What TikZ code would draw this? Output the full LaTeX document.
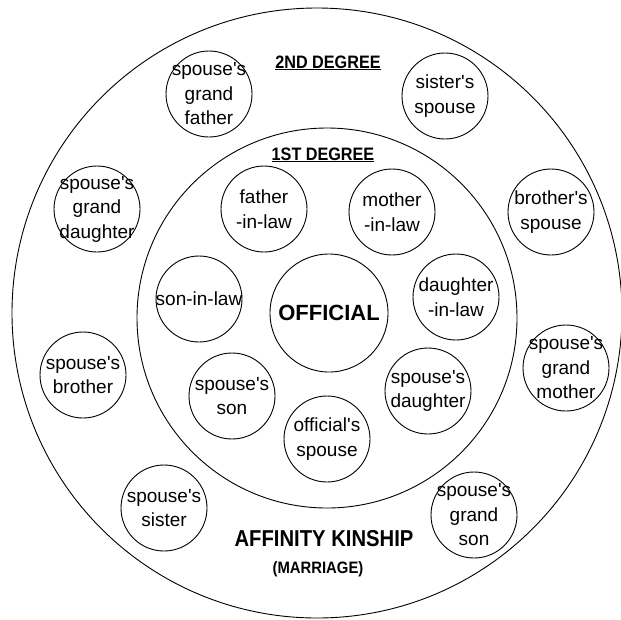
\documentclass[tikz,border=0pt]{standalone}
\usepackage{fontspec}
\setmainfont{Liberation Sans}
\newfontfamily\degreefont[FakeStretch=0.9]{Liberation Sans}
\newfontfamily\kinshipfont[FakeStretch=0.88]{Liberation Sans}
\newcommand{\apos}{\textquotesingle}
\usetikzlibrary{positioning}

\begin{document}
\begin{tikzpicture}[
    x=1pt, y=-1pt,
    % --- STYLES ---
    ring/.style={draw, line width=0.9pt},
    kin/.style={circle, draw, line width=0.9pt, minimum size=86pt, inner sep=-30pt, align=center, font=\fontsize{19}{24.5}\selectfont},
    official/.style={circle, draw, line width=0.9pt, minimum size=118pt, inner sep=-30pt, font=\fontsize{22}{26}\selectfont\bfseries},
    degree_title/.style={anchor=base, font=\degreefont\fontsize{18}{20}\selectfont\bfseries},
    kinship_title/.style={anchor=base, font=\kinshipfont\fontsize{23}{26}\selectfont\bfseries},
    marriage_title/.style={anchor=base, font=\degreefont\fontsize{16.5}{18}\selectfont\bfseries}
]
\useasboundingbox (0,0) rectangle (621,619);

% --- 1. RINGS ---
\draw[ring] (317,313) circle[radius=305pt];
\draw[ring] (327,318) circle[radius=190pt];

% --- 2. CENTRE ---
\node[official] (official) at (329,313) {OFFICIAL};

% --- 3. FIRST DEGREE (inner ring) ---
\node[degree_title] (first) at (323,160) {\underline{1ST DEGREE}};
\node[kin] (fatherinlaw) at (264,209) {father\\-in-law};
\node[kin] (motherinlaw) at (392,212) {mother\\-in-law};
\node[kin] (soninlaw) at (199,299) {son-in-law};
\node[kin] (daughterinlaw) at (456,297) {daughter\\-in-law};
\node[kin] (spouseson) at (232,396) {spouse\apos s\\son};
\node[kin] (spousedaughter) at (428,391) {spouse\apos s\\daughter};
\node[kin] (spouse) at (327,439) {official\apos s\\spouse};

% --- 4. SECOND DEGREE (outer ring) ---
\node[degree_title] (second) at (328,68) {\underline{2ND DEGREE}};
\node[kin] (grandfather) at (209,94) {spouse\apos s\\grand\\father};
\node[kin] (sisterspouse) at (445,96) {sister\apos s\\spouse};
\node[kin] (granddaughter) at (97,209) {spouse\apos s\\grand\\daughter};
\node[kin] (brotherspouse) at (551,212) {brother\apos s\\spouse};
\node[kin] (spousebrother) at (83,375) {spouse\apos s\\brother};
\node[kin] (grandmother) at (566,368) {spouse\apos s\\grand\\mother};
\node[kin] (spousesister) at (164,508) {spouse\apos s\\sister};
\node[kin] (grandson) at (474,515) {spouse\apos s\\grand\\son};

% --- LABELS ---
\node[kinship_title] (kinship) at (324,546) {AFFINITY KINSHIP};
\node[marriage_title] (marriage) at (318,573) {(MARRIAGE)};

\end{tikzpicture}
\end{document}
